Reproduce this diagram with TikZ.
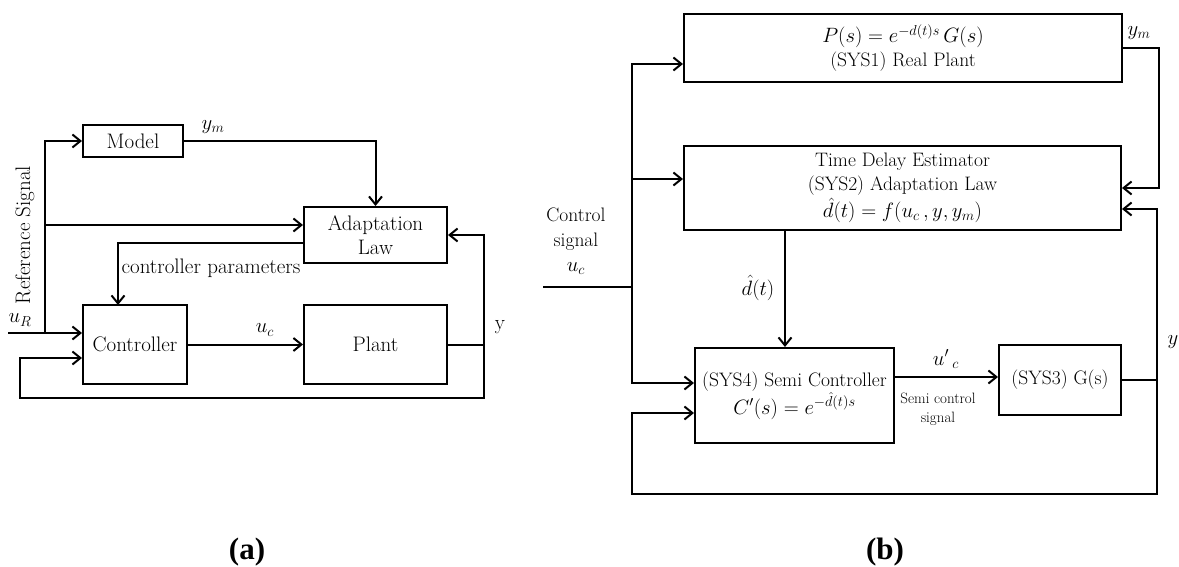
\documentclass[tikz,border=0pt]{standalone}
\usepackage{fontspec}
\newfontfamily\labfont{Liberation Serif}
\usetikzlibrary{arrows.meta,calc}
\begin{document}
\begin{tikzpicture}[x=1pt,y=-1pt,
  blk/.style={draw,line width=2pt,rectangle,inner sep=0pt,align=center},
  ln/.style={line width=2pt},
  arr/.style={line width=2pt,-{Straight Barb[length=8pt,width=13pt,line width=2pt]}},
  ta/.style={font=\fontsize{21}{25}\selectfont},
  tb/.style={font=\fontsize{19.5}{24}\selectfont},
  tsmall/.style={font=\fontsize{15}{19}\selectfont,align=center},
  lab/.style={font=\labfont\bfseries\fontsize{31}{34}\selectfont}]
\useasboundingbox (0,0) rectangle (1179,567);
% ---------------- panel (a) ----------------
\node[blk,ta,minimum width=100pt,minimum height=32pt] (model) at (133,141) {Model};
\node[blk,ta,minimum width=143pt,minimum height=56pt] (adapt) at (375.5,235) {Adaptation\\[-1pt]Law};
\node[blk,ta,minimum width=104pt,minimum height=79pt] (ctrl) at (135,344.5) {Controller};
\node[blk,ta,minimum width=143pt,minimum height=79pt] (plant) at (375.5,344.5) {Plant};
\coordinate (uR) at (8,333);
\coordinate (ja) at (45,333);
\coordinate (ra) at (45,225);
\coordinate (cpS) at (304,243);
\coordinate (cpT) at (118,305);
\coordinate (ya) at (484,344.5);
\coordinate (fbA) at (20,398);
\draw[arr] (uR) -- (uR -| ctrl.west);
\draw[arr] (ja) |- (model.west);
\draw[arr] (ra) -- (ra -| adapt.west);
\draw[arr] (model.east) -| (adapt.north);
\draw[arr] (cpS) -| (cpT);
\draw[arr] (ctrl) -- (plant);
\draw[ln] (plant.east) -- (ya);
\draw[arr] (ya) |- (adapt.east);
\draw[arr] (ya) |- (fbA) |- ([yshift=-13.5pt]ctrl.west);
\node[ta] (lym) at (213,127) {$y_m$};
\node[ta] (luc) at (265,330) {$u_c$};
\node[ta] (ly) at (500,327) {y};
\node[ta] (luR) at (20,320) {$u_R$};
\node[ta] (lcp) at (211,268) {controller parameters};
\node[ta,rotate=90] (lref) at (25,235) {Reference Signal};
\node[lab] (la) at (247,552) {(a)};
% ---------------- panel (b) ----------------
\node[blk,tb,minimum width=438pt,minimum height=68pt] (rp) at (903,48)
  {$P(s) = e^{-d(t)s}\,G(s)$\\(SYS1) Real Plant};
\node[blk,tb,minimum width=437pt,minimum height=84pt] (tde) at (902.5,188)
  {Time Delay Estimator\\(SYS2) Adaptation Law\\[1.5pt]$\hat{d}(t) = f(u_c\,, y, y_m)$};
\node[blk,tb,minimum width=199pt,minimum height=95pt] (sys4) at (794.5,395.5)
  {(SYS4) Semi Controller\\[1pt]$C'(s) = e^{-\hat{d}(t)s}$};
\node[blk,tb,minimum width=122pt,minimum height=70pt] (sys3) at (1060,380) {(SYS3) G(s)};
\coordinate (inb) at (543,287);
\coordinate (jb) at (632,287);
\coordinate (yb) at (1157,380);
\coordinate (fbB) at (632,494);
\coordinate (dh) at (785,230);
\draw[ln] (inb) -- (jb);
\draw[arr] (jb) |- ([yshift=-16pt]rp.west);
\draw[arr] (jb) |- ([yshift=9pt]tde.west);
\draw[arr] (jb) |- ([yshift=12.5pt]sys4.west);
\draw[arr] (rp.east) -- ++(36,0) |- (tde.east);
\draw[ln] (sys3.east) -- (yb);
\draw[arr] (yb) |- ([yshift=-21pt]tde.east);
\draw[arr] (yb) |- (fbB) |- ([yshift=-17.5pt]sys4.west);
\draw[arr] (dh) -- (dh |- sys4.north);
\draw[arr] ([yshift=18.5pt]sys4.east) -- ([yshift=18.5pt]sys4.east -| sys3.west);
\node[tb] (lymb) at (1139,33) {$y_m$};
\node[tb] (lyb) at (1173,342) {$y$};
\node[tb,align=center,font=\fontsize{19.5}{25}\selectfont] (lcs) at (576,241) {Control\\signal\\$u_c$};
\node[tb] (ldh) at (758,288) {$\hat{d}(t)$};
\node[tb] (lucp) at (946,359) {$u'\,{}_c$};
\node[tsmall] (lscs) at (938,409) {Semi control\\signal};
\node[lab] (lb) at (885,552) {(b)};
\end{tikzpicture}
\end{document}
